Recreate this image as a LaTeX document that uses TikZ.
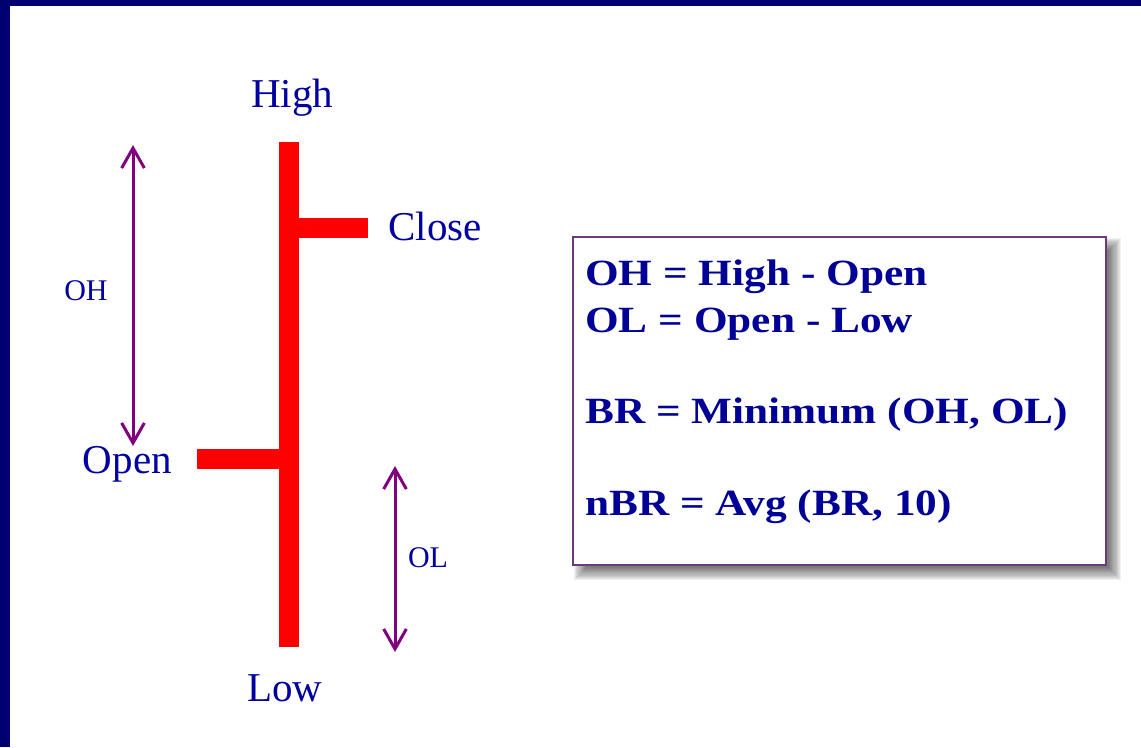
\documentclass[tikz,border=0pt]{standalone}
\usepackage{fontspec}
\setmainfont{Liberation Serif}
\newfontfamily\boxfont[FakeStretch=1.17]{Liberation Serif}
\usetikzlibrary{arrows.meta}
\definecolor{navybg}{RGB}{0,0,112}
\definecolor{labelblue}{RGB}{0,0,160}
\definecolor{boxblue}{RGB}{0,0,150}
\definecolor{arrowpurple}{RGB}{128,0,128}
\definecolor{boxpurple}{RGB}{106,58,122}
\tikzset{
  bar/.style={fill=red},
  biglabel/.style={text=labelblue,inner sep=0pt,font=\fontsize{30.75}{36}\selectfont},
  smalllabel/.style={text=labelblue,inner sep=0pt,font=\fontsize{22.5}{26}\selectfont},
  rangearrow/.style={draw=arrowpurple,line width=2.25pt,{Straight Barb[length=15pt,width=17pt]}-{Straight Barb[length=15pt,width=17pt]}},
  shadowlayer/.style={fill=black,opacity=0.055},
  formulabox/.style={draw=boxpurple,line width=1.5pt,fill=white},
  formula/.style={text=boxblue,inner sep=0pt,anchor=base west,font=\boxfont\bfseries\fontsize{27.75}{32}\selectfont}
}
\begin{document}
\begin{tikzpicture}[x=0.75pt,y=-0.75pt]
\useasboundingbox (0,0) rectangle (1141,747);
\fill[navybg] (0,0) rectangle (1141,747);
\fill[white] (10,6) rectangle (1141,747);
% price bar
\fill[bar] (279,142) rectangle (299,647);
\fill[bar] (299,218) rectangle (368,238);
\fill[bar] (197,449) rectangle (279,469);
% labels
\node[biglabel,anchor=base] (high) at (292,107) {High};
\node[biglabel,anchor=base west] (close) at (388,240) {Close};
\node[biglabel,anchor=base east] (open) at (172,473) {Open};
\node[biglabel,anchor=base] (low) at (285,701) {Low};
\node[smalllabel,anchor=base] (ohl) at (86,300) {OH};
\node[smalllabel,anchor=base] (oll) at (428,567) {OL};
% range arrows
\coordinate (ohtop) at (133,145);
\coordinate (ohbot) at (133,446);
\coordinate (oltop) at (395,466);
\coordinate (olbot) at (395,652);
\draw[rangearrow] (ohtop) -- (ohbot);
\draw[rangearrow] (oltop) -- (olbot);
% formula box with soft shadow
\foreach \i in {0,...,11} {
  \pgfmathsetmacro{\r}{7-\i*1.1}
  \fill[shadowlayer] ({581-\r},{245-\r}) rectangle ({1114+\r},{573+\r});
}
\path[formulabox] (573,237) rectangle (1106,565);
\node[formula] (f1) at (585,285) {OH = High - Open};
\node[formula] (f2) at (585,332) {OL = Open - Low};
\node[formula] (f3) at (585,423) {BR = Minimum (OH, OL)};
\node[formula] (f4) at (585,515) {nBR = Avg (BR, 10)};
\end{tikzpicture}
\end{document}
